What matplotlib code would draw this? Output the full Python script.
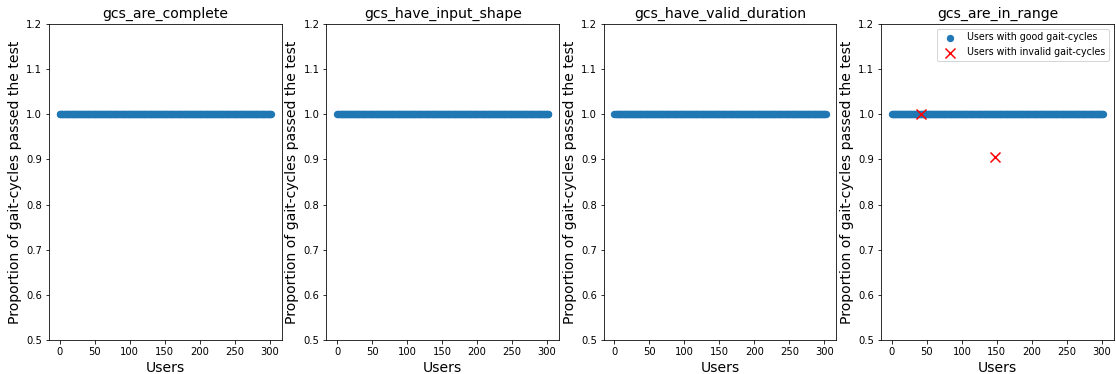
import numpy as np
import matplotlib
matplotlib.use("Agg")
import matplotlib.pyplot as plt

titles = ["gcs_are_complete", "gcs_have_input_shape", "gcs_have_valid_duration", "gcs_are_in_range"]
n_users = 303
users = list(range(n_users))
good_props = [1.0] * n_users
invalid_users = [42, 148]
invalid_props = [1.0, 0.905]

fig, axes = plt.subplots(1, 4, figsize=(1116 / 72, 374 / 72), dpi=72)
fig.subplots_adjust(left=0.044, right=0.998, top=0.936, bottom=0.091, wspace=0.193)

for i, (ax, t) in enumerate(zip(axes, titles)):
    ax.scatter(users, good_props, s=40, color="#1f77b4", label="Users with good gait-cycles")
    if i == 3:
        ax.scatter(invalid_users, invalid_props, s=100, marker="x", color="red",
                   label="Users with invalid gait-cycles")
        ax.legend(loc="upper right", fontsize=9.5)
    ax.set_ylim(0.5, 1.2)
    ax.set_xticks([0, 50, 100, 150, 200, 250, 300])
    ax.set_yticks([0.5, 0.6, 0.7, 0.8, 0.9, 1.0, 1.1, 1.2])
    ax.set_title(t, fontsize=14)
    ax.set_xlabel("Users", fontsize=14)
    ax.set_ylabel("Proportion of gait-cycles passed the test", fontsize=14)
    ax.tick_params(labelsize=10)

fig.savefig("out.png", dpi=72)
